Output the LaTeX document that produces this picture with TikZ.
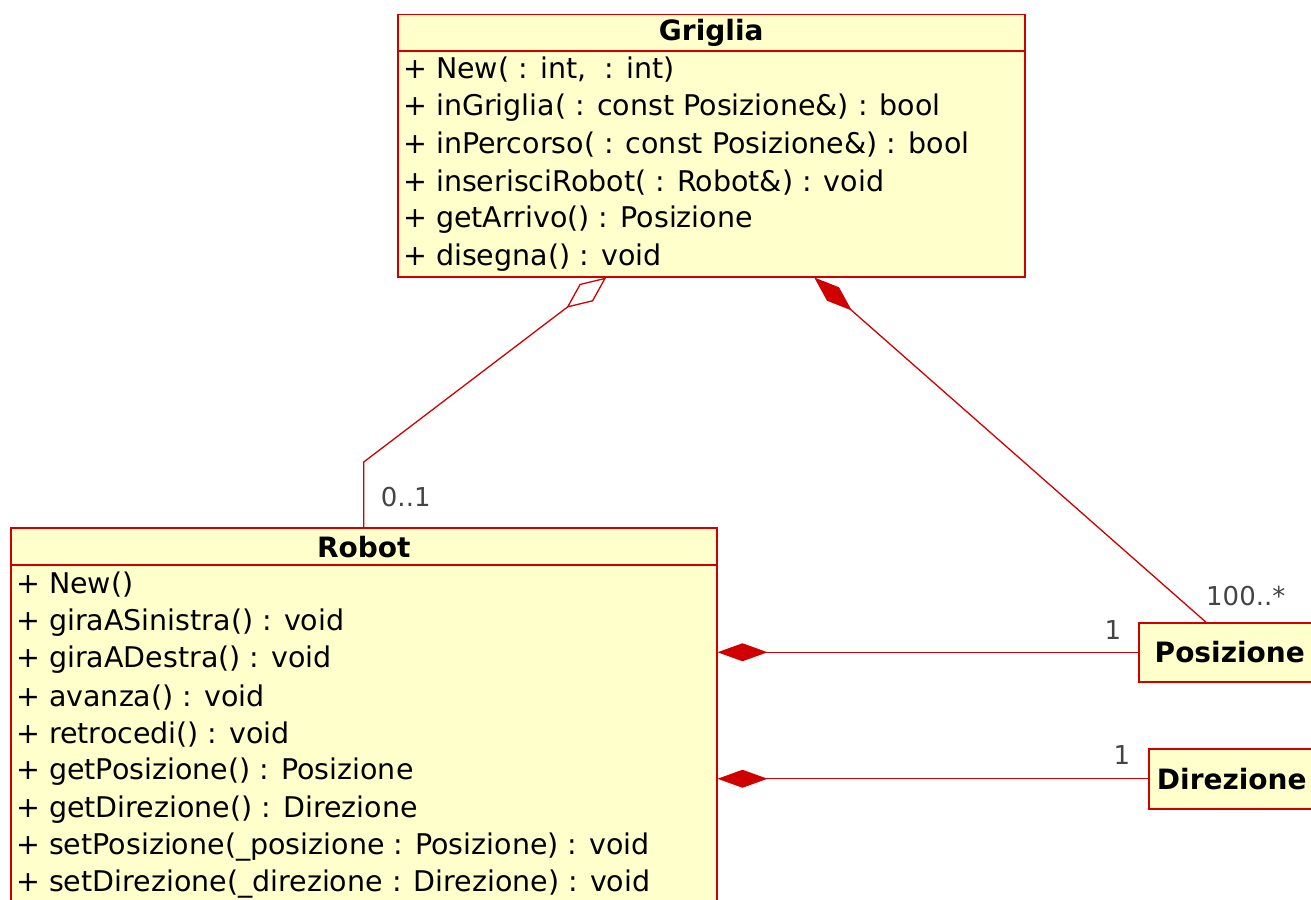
\documentclass[tikz,border=0pt]{standalone}
\usepackage{fontspec}
\setmainfont{DejaVu Sans}
\usepackage{xcolor}
\definecolor{UmlRed}{HTML}{D00000}
\definecolor{UmlFill}{HTML}{FFFFCC}
\definecolor{LabelGrey}{HTML}{444444}
\usetikzlibrary{arrows.meta, positioning, calc}

\begin{document}
\begin{tikzpicture}[
    x=1pt, y=-1pt,
    box/.style={rectangle, draw=UmlRed, fill=UmlFill, line width=1.5pt,
      anchor=north west, inner sep=0pt},
    title/.style={font=\fontsize{28}{32}\selectfont\bfseries},
    member/.style={anchor=west, inner sep=0pt, font=\fontsize{28.5}{32}\selectfont},
    lbl/.style={font=\fontsize{26}{30}\selectfont, text=LabelGrey, inner sep=0pt},
    sep/.style={UmlRed, line width=1.5pt},
    comp/.style={-{Diamond[length=50pt, width=18pt]}, UmlRed, line width=1.3pt},
    aggr/.style={-{Diamond[open, fill=white, length=50pt, width=22pt]}, UmlRed, line width=1.3pt}
  ]
  \useasboundingbox (0,0) rectangle (1311,899);

  % classes
  \node[box, minimum width=627pt, minimum height=262pt] (griglia) at (397,14) {};
  \node[title] at ([yshift=-19pt]griglia.north) {Griglia};
  \draw[sep] ([yshift=-37pt]griglia.north west) -- ([yshift=-37pt]griglia.north east);
  \foreach \m [count=\i from 0] in {
      {+ New( : int,\ \ : int)},
      {+ inGriglia( : const Posizione\&) : bool},
      {+ inPercorso( : const Posizione\&) : bool},
      {+ inserisciRobot( : Robot\&) : void},
      {+ getArrivo() : Posizione},
      {+ disegna() : void}}
    \node[member] at ($(griglia.north west)+(6,{56+37.5*\i})$) {\m};

  \node[box, minimum width=706pt, minimum height=382pt] (robot) at (10,527) {};
  \node[title] at ([yshift=-20pt]robot.north) {Robot};
  \draw[sep] ([yshift=-38pt]robot.north west) -- ([yshift=-38pt]robot.north east);
  \foreach \m [count=\i from 0] in {
      {+ New()},
      {+ giraASinistra() : void},
      {+ giraADestra() : void},
      {+ avanza() : void},
      {+ retrocedi() : void},
      {+ getPosizione() : Posizione},
      {+ getDirezione() : Direzione},
      {+ setPosizione(\_posizione : Posizione) : void},
      {+ setDirezione(\_direzione : Direzione) : void}}
    \node[member] at ($(robot.north west)+(6,{58+37.4*\i})$) {\m};

  \node[box, title, minimum width=182pt, minimum height=59pt] (posizione) at (1138,622) {Posizione};
  \node[box, title, minimum width=166pt, minimum height=60pt] (direzione) at (1148,748) {Direzione};

  % associations
  \coordinate (bend) at ([yshift=65pt]robot.north);
  \draw[aggr] (robot.north) -- (bend) -- ([xshift=-105pt]griglia.south);
  \draw[comp] ([xshift=-24pt]posizione.north) -- ([xshift=103pt]griglia.south);
  \draw[comp] (posizione.west) -- (posizione.west -| robot.east);
  \draw[comp] (direzione.west) -- (direzione.west -| robot.east);

  % multiplicities
  \node[lbl] (mzero) at ([xshift=42pt, yshift=30pt]robot.north) {0..1};
  \node[lbl] (mhund) at ([xshift=16pt, yshift=26pt]posizione.north) {100..*};
  \node[lbl] (mpos) at ([xshift=-25pt, yshift=22pt]posizione.west) {1};
  \node[lbl] (mdir) at ([xshift=-26pt, yshift=24pt]direzione.west) {1};
\end{tikzpicture}
\end{document}
